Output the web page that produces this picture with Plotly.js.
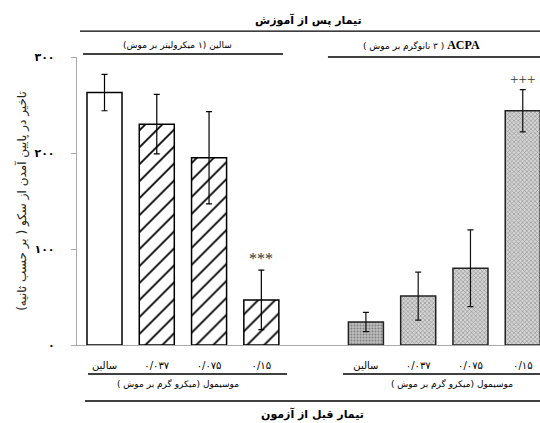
<!DOCTYPE html>
<html>
<head>
<meta charset="utf-8">
<script src="https://cdn.plot.ly/plotly-3.0.1.min.js"></script>
<style>html,body{margin:0;padding:0;background:#fff;}</style>
</head>
<body>
<div id="chart" style="width:540px;height:423px;"></div>
<script>
// ---- data ----
const doseLabels = ["سالین", "۰/۰۳۷", "۰/۰۷۵", "۰/۱۵"];
const salineValues = [263, 230, 195, 47];
const salineErrors = [19, 31, 48, 31];
const acpaValues = [24, 51, 80, 244];
const acpaErrors = [10, 25, 40, 22];
const yTickVals = [0, 100, 200, 300];
const yTickText = ["۰", "۱۰۰", "۲۰۰", "۳۰۰"];

const rtl = s => '<span style="direction:rtl;unicode-bidi:embed">' + s + '</span>';

const leftX = doseLabels.map((_, i) => i);
const rightX = doseLabels.map((_, i) => 5 + i);
const FONT = "DejaVu Sans";

const traces = [
  {
    type: "bar", x: leftX, y: salineValues, width: 0.67,
    marker: {
      color: "#fff",
      line: {color: "#000", width: 1.5},
      pattern: {shape: ["", "/", "/", "/"], size: 12, solidity: 0.15, fgcolor: "#000", fgopacity: 1, bgcolor: "#fff", fillmode: "replace"}
    },
    error_y: {type: "data", array: salineErrors, visible: true, color: "#000", thickness: 1.2, width: 3},
    cliponaxis: false, hoverinfo: "skip"
  },
  {
    type: "bar", x: rightX, y: acpaValues, width: 0.67,
    marker: {
      color: ["#bdbdbd", "#d4d4d4", "#d4d4d4", "#d4d4d4"],
      line: {color: "#222", width: 1.5},
      pattern: {shape: [".", "x", "x", "x"], size: 3, solidity: 0.35, fgcolor: "#8a8a8a", fillmode: "overlay"}
    },
    error_y: {type: "data", array: acpaErrors, visible: true, color: "#111", thickness: 1.2, width: 3},
    cliponaxis: false, hoverinfo: "skip"
  }
];

const line = (x0, x1, y) => ({type: "line", xref: "paper", yref: "paper", x0, x1, y0: y, y1: y, line: {color: "#000", width: 1.3}});
const txt = (text, x, y, size, bold) => ({
  xref: "paper", yref: "paper", x, y, xanchor: "center", yanchor: "middle", showarrow: false,
  text: bold ? "<b>" + text + "</b>" : text, font: {family: FONT, size, color: "#000"}
});

const layout = {
  width: 540, height: 423,
  margin: {l: 77, r: 0, t: 57, b: 78},
  paper_bgcolor: "#fff", plot_bgcolor: "#fff",
  showlegend: false, bargap: 0,
  font: {family: FONT, color: "#000"},
  xaxis: {
    range: [-0.526, 8.33], tickvals: leftX.concat(rightX), ticktext: doseLabels.concat(doseLabels),
    showline: true, linecolor: "#aaa", linewidth: 1.2, ticks: "", showgrid: false, zeroline: false,
    tickfont: {family: FONT, size: 10, color: "#000"}, ticklabelstandoff: 11
  },
  yaxis: {
    range: [0, 300], tickvals: yTickVals, ticktext: yTickText,
    showline: true, linecolor: "#aaa", linewidth: 1.2, ticks: "outside", ticklen: 5, tickcolor: "#aaa",
    showgrid: false, zeroline: false, ticklabelstandoff: 14,
    tickfont: {family: FONT, size: 11, color: "#000", weight: "bold"},
    title: {text: rtl("تاخیر در پایین آمدن از سکو ( بر حسب ثانیه)"), font: {family: FONT, size: 12, color: "#222"}, standoff: 5}
  },
  shapes: [
    line(0.0065, 1, 1.090),
    line(0.013, 0.445, 1.0104),
    line(0.542, 1, 1.0),
    line(0.0238, 0.4536, -0.1007),
    line(0.5745, 1, -0.1007),
    line(0.0173, 1, -0.1944)
  ],
  annotations: [
    txt(rtl("تیمار پس از آموزش"), 0.50, 1.128, 11, true),
    txt(rtl("سالین (۱ میکرولیتر بر موش)"), 0.216, 1.042, 9),
    txt(rtl('<span style="font-family:\'Liberation Serif\';font-size:12px;font-weight:bold">ACPA</span> ( ۳ نانوگرم بر موش )'), 0.745, 1.042, 9),
    txt(rtl("موسیمول (میکرو گرم بر موش )"), 0.218, -0.135, 9),
    txt(rtl("موسیمول (میکرو گرم بر موش )"), 0.81, -0.135, 9),
    txt(rtl("تیمار قبل از آزمون"), 0.5076, -0.2396, 11, true),
    {x: 3, y: salineValues[3] + salineErrors[3], xref: "x", yref: "y", yanchor: "bottom", yshift: 1, showarrow: false,
     text: "***", font: {family: "Liberation Serif", size: 16, color: "#333"}},
    {x: 8, y: acpaValues[3] + acpaErrors[3], xref: "x", yref: "y", yanchor: "bottom", yshift: 1, showarrow: false,
     text: "+++", font: {family: "Liberation Serif", size: 15, color: "#333"}}
  ]
};

Plotly.newPlot("chart", traces, layout, {displayModeBar: false, staticPlot: true});
</script>
</body>
</html>
